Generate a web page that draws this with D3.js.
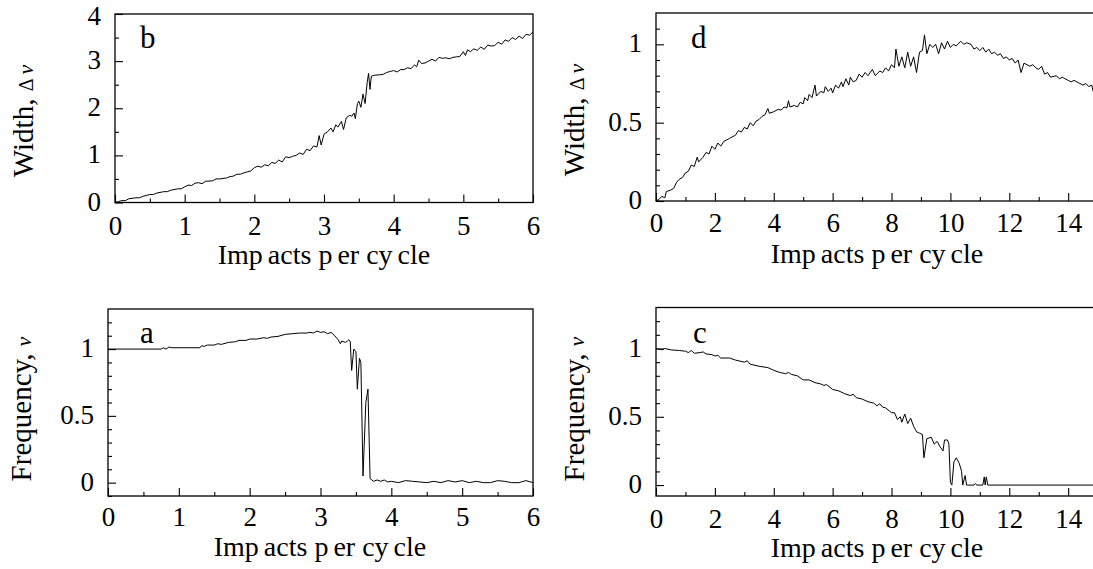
<!DOCTYPE html>
<html>
<head>
<meta charset="utf-8">
<script src="https://cdn.jsdelivr.net/npm/d3@7"></script>
<style>
  body { margin: 0; background: #fff; }
  svg { display: block; font-family: "Liberation Serif", "Times New Roman", serif; }
</style>
</head>
<body>
<div id="chart"></div>
<script>
// panel b: width vs impacts per cycle (0..6)
var bImpacts = [0, 0.05, 0.1, 0.15, 0.2, 0.3, 0.35, 0.4, 0.5, 0.55, 0.6, 0.7, 0.75, 0.8, 0.9, 0.95, 1.0, 1.05, 1.1, 1.15,
  1.2, 1.25, 1.3, 1.4, 1.45, 1.5, 1.6, 1.65, 1.7, 1.75, 1.8, 1.85, 1.9, 1.95, 2.0, 2.05, 2.1, 2.15, 2.2, 2.25,
  2.3, 2.35, 2.4, 2.45, 2.5, 2.55, 2.6, 2.65, 2.7, 2.75, 2.8, 2.85, 2.9, 2.93, 2.96, 3.0, 3.05, 3.1, 3.13, 3.17,
  3.2, 3.25, 3.28, 3.32, 3.37, 3.4, 3.43, 3.45, 3.48, 3.5, 3.53, 3.56, 3.59, 3.62, 3.64, 3.66, 3.68, 3.72, 3.8, 3.85,
  3.9, 3.95, 4.0, 4.05, 4.1, 4.15, 4.2, 4.25, 4.3, 4.33, 4.36, 4.4, 4.45, 4.5, 4.55, 4.6, 4.65, 4.7, 4.75, 4.8,
  4.85, 4.9, 4.95, 5.0, 5.03, 5.06, 5.1, 5.15, 5.2, 5.25, 5.3, 5.35, 5.4, 5.45, 5.5, 5.55, 5.6, 5.65, 5.7, 5.75,
  5.8, 5.85, 5.9, 5.95, 6.0];
var bWidth = [0, 0.02, 0.04, 0.04, 0.08, 0.1, 0.1, 0.13, 0.17, 0.17, 0.2, 0.23, 0.23, 0.26, 0.29, 0.29, 0.33, 0.37, 0.36, 0.41,
  0.42, 0.4, 0.45, 0.46, 0.5, 0.5, 0.52, 0.55, 0.56, 0.6, 0.6, 0.63, 0.65, 0.67, 0.74, 0.77, 0.75, 0.8, 0.78, 0.85,
  0.83, 0.9, 0.86, 0.97, 0.95, 0.98, 1.0, 1.05, 1.02, 1.13, 1.1, 1.2, 1.18, 1.42, 1.22, 1.45, 1.5, 1.58, 1.5, 1.65,
  1.6, 1.72, 1.55, 1.8, 1.85, 1.83, 1.9, 1.78, 2.1, 2.15, 2.02, 2.3, 2.1, 2.55, 2.74, 2.4, 2.68, 2.7, 2.71, 2.72,
  2.76, 2.78, 2.8, 2.77, 2.82, 2.82, 2.86, 2.84, 2.92, 2.88, 3.02, 2.95, 2.96, 3.0, 3.04, 3.0, 3.08, 3.06, 3.07, 3.05,
  3.08, 3.09, 3.1, 3.2, 3.12, 3.24, 3.2, 3.26, 3.23, 3.3, 3.25, 3.34, 3.32, 3.33, 3.4, 3.36, 3.45, 3.42, 3.5, 3.46,
  3.53, 3.48, 3.57, 3.55, 3.62];

// panel a: frequency vs impacts per cycle (0..6)
var aImpacts = [0, 0.75, 0.78, 0.82, 0.86, 0.9, 1.3, 1.32, 1.36, 1.4, 1.5, 1.55, 1.6, 1.7, 1.8, 1.85, 1.95, 2.0, 2.1, 2.2,
  2.25, 2.3, 2.4, 2.5, 2.6, 2.7, 2.8, 2.85, 2.9, 2.95, 3.0, 3.05, 3.1, 3.15, 3.2, 3.25, 3.28, 3.3, 3.35, 3.38,
  3.4, 3.42, 3.44, 3.47, 3.5, 3.52, 3.55, 3.57, 3.6, 3.64, 3.67, 3.7, 3.75, 3.8, 3.85, 3.9, 3.95, 4.0, 4.1, 4.2,
  4.3, 4.4, 4.5, 4.6, 4.7, 4.8, 4.9, 5.0, 5.1, 5.2, 5.3, 5.4, 5.5, 5.6, 5.7, 5.8, 5.9, 6.0];
var aFreq = [1.0, 1.0, 1.01, 1.0, 1.015, 1.01, 1.01, 1.025, 1.02, 1.03, 1.03, 1.04, 1.035, 1.05, 1.055, 1.065, 1.065, 1.075, 1.075, 1.085,
  1.08, 1.09, 1.095, 1.11, 1.115, 1.12, 1.12, 1.125, 1.12, 1.135, 1.125, 1.13, 1.115, 1.125, 1.1, 1.07, 1.04, 1.06, 1.05, 1.06,
  1.07, 1.055, 0.84, 1.0, 0.98, 0.7, 0.93, 0.9, 0.05, 0.6, 0.7, 0.03, 0.01, 0.02, 0.01, 0.02, 0.005, 0.01, 0.0, 0.015,
  0.01, 0.005, 0.0, 0.01, 0.0, 0.015, 0.005, 0.015, 0.0, 0.01, 0.0, 0.0, 0.015, 0.01, 0.0, 0.0, 0.015, 0.0];

// panel d: width vs impacts per cycle (0..15)
var dImpacts = [0, 0.1, 0.2, 0.3, 0.35, 0.5, 0.6, 0.7, 0.8, 0.9, 1.0, 1.1, 1.2, 1.3, 1.4, 1.45, 1.6, 1.7, 1.8, 1.9,
  2.0, 2.1, 2.2, 2.3, 2.5, 2.7, 2.8, 2.9, 3.0, 3.1, 3.2, 3.3, 3.4, 3.5, 3.6, 3.7, 3.8, 3.85, 4.0, 4.15,
  4.25, 4.35, 4.45, 4.5, 4.55, 4.7, 4.8, 4.9, 5.0, 5.05, 5.15, 5.2, 5.3, 5.4, 5.45, 5.6, 5.7, 5.75, 5.85, 5.95,
  6.0, 6.1, 6.2, 6.3, 6.35, 6.45, 6.55, 6.6, 6.7, 6.8, 6.9, 7.0, 7.1, 7.2, 7.35, 7.45, 7.6, 7.7, 7.8, 7.9,
  8.0, 8.1, 8.15, 8.25, 8.35, 8.45, 8.55, 8.65, 8.75, 8.85, 8.95, 9.05, 9.12, 9.2, 9.3, 9.4, 9.5, 9.6, 9.7, 9.8,
  9.9, 10.0, 10.1, 10.2, 10.35, 10.45, 10.55, 10.7, 10.8, 10.9, 11.0, 11.1, 11.2, 11.3, 11.4, 11.5, 11.6, 11.7, 11.8, 11.9,
  12.0, 12.1, 12.2, 12.3, 12.4, 12.5, 12.7, 12.8, 12.9, 13.0, 13.1, 13.2, 13.3, 13.4, 13.6, 13.7, 13.8, 14.0, 14.1, 14.2,
  14.4, 14.5, 14.6, 14.7, 14.8, 14.85, 14.9, 15.0];
var dWidth = [0, 0.01, 0.03, 0.02, 0.06, 0.07, 0.08, 0.12, 0.14, 0.15, 0.18, 0.19, 0.23, 0.22, 0.28, 0.25, 0.28, 0.31, 0.3, 0.35,
  0.33, 0.37, 0.35, 0.38, 0.4, 0.42, 0.45, 0.44, 0.47, 0.46, 0.5, 0.48, 0.51, 0.52, 0.54, 0.55, 0.59, 0.56, 0.57, 0.585,
  0.58, 0.6, 0.595, 0.64, 0.6, 0.61, 0.6, 0.63, 0.62, 0.66, 0.64, 0.68, 0.66, 0.74, 0.67, 0.7, 0.69, 0.73, 0.7, 0.72,
  0.69, 0.74, 0.72, 0.76, 0.73, 0.78, 0.74, 0.79, 0.76, 0.77, 0.81, 0.79, 0.82, 0.8, 0.84, 0.8, 0.83, 0.82, 0.85, 0.83,
  0.87, 0.85, 0.97, 0.86, 0.92, 0.85, 0.95, 0.86, 0.92, 0.82, 0.95, 0.96, 1.06, 0.94, 1.0, 0.98, 1.0, 0.94, 1.01, 0.97,
  1.02, 0.98, 1.0, 0.99, 1.02, 1.0, 1.01, 1.0, 0.97, 0.98, 0.96, 0.98, 0.95, 0.97, 0.94, 0.95, 0.93, 0.94, 0.91, 0.92,
  0.9, 0.91, 0.88, 0.9, 0.82, 0.88, 0.86, 0.87, 0.85, 0.84, 0.86, 0.81, 0.82, 0.79, 0.8, 0.78, 0.79, 0.77, 0.76, 0.77,
  0.75, 0.74, 0.75, 0.73, 0.74, 0.7, 0.73, 0.72];

// panel c: frequency vs impacts per cycle (0..15)
var cImpacts = [0, 0.2, 0.3, 0.5, 0.8, 1.0, 1.1, 1.2, 1.3, 1.5, 1.6, 1.7, 1.9, 2.0, 2.1, 2.2, 2.5, 2.7, 3.0, 3.1,
  3.2, 3.5, 3.8, 4.0, 4.2, 4.4, 4.5, 4.6, 4.8, 5.0, 5.2, 5.4, 5.6, 5.7, 5.8, 6.0, 6.2, 6.4, 6.6, 6.7,
  6.8, 7.0, 7.2, 7.4, 7.5, 7.6, 7.7, 7.8, 8.0, 8.1, 8.2, 8.3, 8.35, 8.45, 8.55, 8.65, 8.75, 8.85, 8.95, 9.05,
  9.1, 9.2, 9.35, 9.45, 9.55, 9.65, 9.75, 9.8, 9.9, 9.95, 10.0, 10.05, 10.12, 10.2, 10.3, 10.38, 10.42, 10.5, 10.55, 10.8,
  10.85, 10.9, 11.1, 11.15, 11.18, 11.22, 11.27, 15.0];
var cFreq = [1.0, 0.99, 1.0, 0.99, 0.985, 0.98, 0.97, 0.985, 0.965, 0.97, 0.975, 0.96, 0.955, 0.945, 0.95, 0.93, 0.93, 0.915, 0.9, 0.91,
  0.885, 0.87, 0.86, 0.84, 0.825, 0.815, 0.825, 0.81, 0.8, 0.77, 0.77, 0.75, 0.74, 0.73, 0.735, 0.7, 0.69, 0.67, 0.655, 0.665,
  0.64, 0.63, 0.61, 0.6, 0.58, 0.595, 0.57, 0.565, 0.53, 0.53, 0.48, 0.5, 0.46, 0.52, 0.45, 0.49, 0.43, 0.39, 0.38, 0.37,
  0.2, 0.34, 0.35, 0.3, 0.32, 0.28, 0.25, 0.33, 0.33, 0.3, 0.02, 0.0, 0.17, 0.2, 0.16, 0.1, 0.0, 0.07, 0.0, 0.0,
  0.01, 0.0, 0.0, 0.06, 0.0, 0.06, 0.0, 0.0];

// tick values
var xTicks6Major = [0, 1, 2, 3, 4, 5, 6];
var xTicks6Minor = [0.5, 1.5, 2.5, 3.5, 4.5, 5.5];
var xTicks15Major = [0, 2, 4, 6, 8, 10, 12, 14];
var xTicks15Minor = [1, 3, 5, 7, 9, 11, 13, 15];
var yTicksBMajor = [0, 1, 2, 3, 4];
var yTicksBMinor = [0.5, 1.5, 2.5, 3.5];
var yTicksFreqMajor = [0, 0.5, 1];
var yTicksFreqMinor = [-0.1, 0.1, 0.2, 0.3, 0.4, 0.6, 0.7, 0.8, 0.9, 1.1, 1.2];
var yTicksDMajor = [0, 0.5, 1];
var yTicksDMinor = [0.1, 0.2, 0.3, 0.4, 0.6, 0.7, 0.8, 0.9, 1.1];

var W = 1093, H = 569;
var svg = d3.select("#chart").append("svg").attr("width", W).attr("height", H);

function drawPanel(p) {
  var x = d3.scaleLinear().domain(p.xDomain).range([p.left, p.right]);
  var y = d3.scaleLinear().domain(p.yDomain).range([p.bottom, p.top]);
  var g = svg.append("g");

  g.append("clipPath").attr("id", "clip-" + p.id)
    .append("rect")
    .attr("x", p.left).attr("y", p.top)
    .attr("width", p.right - p.left).attr("height", p.bottom - p.top);

  // ticks point inward, labels only on the major ones
  var gx = g.append("g").attr("transform", "translate(0," + p.bottom + ")");
  gx.call(d3.axisBottom(x).tickValues(p.xMinor).tickSize(-4).tickFormat(""));
  var gx2 = g.append("g").attr("transform", "translate(0," + p.bottom + ")");
  gx2.call(d3.axisBottom(x).tickValues(p.xMajor).tickSize(-8).tickPadding(p.xPad).tickFormat(d3.format("~g")));
  var gy = g.append("g").attr("transform", "translate(" + p.left + ",0)");
  gy.call(d3.axisLeft(y).tickValues(p.yMinor).tickSize(-4).tickFormat(""));
  var gy2 = g.append("g").attr("transform", "translate(" + p.left + ",0)");
  gy2.call(d3.axisLeft(y).tickValues(p.yMajor).tickSize(-8).tickPadding(14).tickFormat(d3.format("~g")));

  g.selectAll(".domain").remove();
  g.selectAll(".tick line").attr("stroke", "#000").attr("stroke-width", 1.1);
  g.selectAll(".tick text")
    .attr("fill", "#000")
    .style("font-family", "'Liberation Serif', serif")
    .style("font-size", "27px");
  // keep the label at the very top inside the page
  gy2.selectAll(".tick text").attr("dy", function (d) {
    return y(d) < 20 ? "0.4em" : "0.28em";
  });

  g.append("rect")
    .attr("x", p.left).attr("y", p.top)
    .attr("width", p.right - p.left).attr("height", p.bottom - p.top)
    .attr("fill", "none").attr("stroke", "#000").attr("stroke-width", 1.3);

  var pts = d3.zip(p.xs, p.ys);
  g.append("path")
    .datum(pts)
    .attr("clip-path", "url(#clip-" + p.id + ")")
    .attr("fill", "none")
    .attr("stroke", "#000")
    .attr("stroke-width", 1)
    .attr("d", d3.line().x(function (d) { return x(d[0]); }).y(function (d) { return y(d[1]); }));

  // panel letter
  g.append("text")
    .text(p.letter)
    .attr("x", p.letterX).attr("y", p.letterY)
    .style("font-size", "31px");

  // x title, with the odd word gaps of the original
  var t = g.append("text")
    .attr("x", p.titleX).attr("y", p.bottom + p.titlePad)
    .attr("text-anchor", "middle")
    .style("font-size", "28px");
  [["Imp", 0], ["acts", 5], [" p", 0], ["er", 5], [" cy", 0], ["cle", 5]].forEach(function (s) {
    t.append("tspan").attr("dx", s[1]).text(s[0]);
  });

  // y title
  var yt = g.append("text")
    .attr("transform", "translate(" + p.yTitleX + "," + p.yTitleY + ") rotate(-90)")
    .attr("text-anchor", "middle")
    .style("font-size", "29px");
  yt.append("tspan").text(p.yTitle + "  ");
  if (p.delta) yt.append("tspan").style("font-size", "20px").text("\u0394 ");
  yt.append("tspan").style("font-size", "22px").style("font-style", "italic").text("\u03bd");
}

drawPanel({
  id: "b", letter: "b", letterX: 140, letterY: 48,
  left: 115, right: 533, top: 14, bottom: 202.5,
  xDomain: [0, 6], yDomain: [0, 4],
  xMajor: xTicks6Major, xMinor: xTicks6Minor, yMajor: yTicksBMajor, yMinor: yTicksBMinor,
  xs: bImpacts, ys: bWidth, xPad: 13, titleX: 324, titlePad: 61,
  yTitle: "Width,", delta: true, yTitleX: 33, yTitleY: 121
});

drawPanel({
  id: "a", letter: "a", letterX: 140, letterY: 343,
  left: 108, right: 533, top: 309, bottom: 496,
  xDomain: [0, 6], yDomain: [-0.1, 1.3],
  xMajor: xTicks6Major, xMinor: xTicks6Minor, yMajor: yTicksFreqMajor, yMinor: yTicksFreqMinor,
  xs: aImpacts, ys: aFreq, xPad: 11, titleX: 320, titlePad: 60,
  yTitle: "Frequency,", delta: false, yTitleX: 31, yTitleY: 409
});

drawPanel({
  id: "d", letter: "d", letterX: 691, letterY: 48,
  left: 656, right: 1097.6, top: 13, bottom: 201,
  xDomain: [0, 15], yDomain: [0, 1.2],
  xMajor: xTicks15Major, xMinor: xTicks15Minor, yMajor: yTicksDMajor, yMinor: yTicksDMinor,
  xs: dImpacts, ys: dWidth, xPad: 12, titleX: 877, titlePad: 62,
  yTitle: "Width,", delta: true, yTitleX: 584, yTitleY: 120
});

drawPanel({
  id: "c", letter: "c", letterX: 693, letterY: 343,
  left: 656, right: 1097.6, top: 307.5, bottom: 496,
  xDomain: [0, 15], yDomain: [-0.08, 1.3],
  xMajor: xTicks15Major, xMinor: xTicks15Minor, yMajor: yTicksFreqMajor, yMinor: yTicksFreqMinor.slice(1),
  xs: cImpacts, ys: cFreq, xPad: 12.5, titleX: 877, titlePad: 61,
  yTitle: "Frequency,", delta: false, yTitleX: 584, yTitleY: 409
});
</script>
</body>
</html>
